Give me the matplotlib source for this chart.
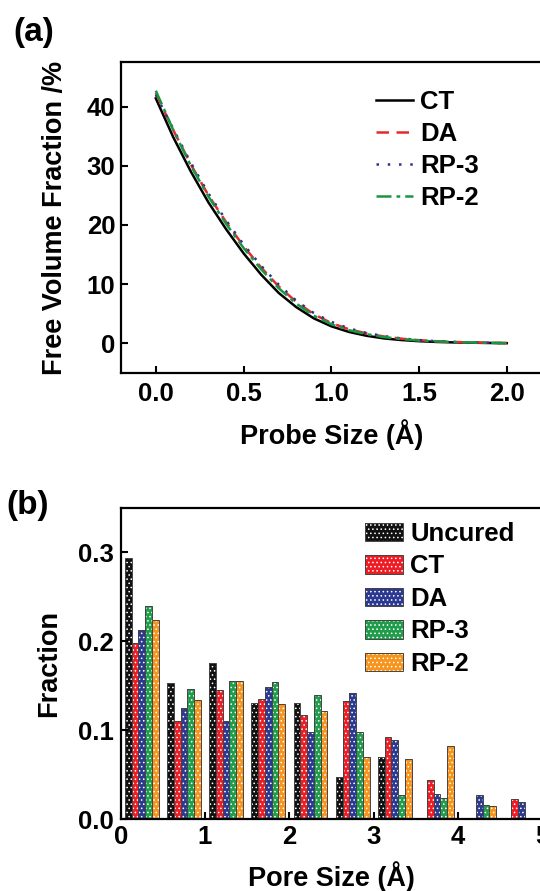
import numpy as np
import matplotlib
matplotlib.use('Agg')
import matplotlib.pyplot as plt
from matplotlib.patches import Patch

plt.rcParams['font.family'] = ['Liberation Sans', 'DejaVu Sans']
plt.rcParams['font.weight'] = 'bold'
plt.rcParams['axes.labelweight'] = 'bold'
plt.rcParams['hatch.linewidth'] = 0.6

# ---- panel (a): free volume fraction vs probe size
probe = [0.0, 0.1, 0.2, 0.3, 0.4, 0.5, 0.6, 0.7, 0.8, 0.9, 1.0,
         1.1, 1.2, 1.3, 1.4, 1.5, 1.6, 1.7, 1.8, 1.9, 2.0]
fv_ct = [41.4, 34.8, 29.0, 23.8, 19.3, 15.2, 11.6, 8.5, 6.1, 4.2, 2.85,
         1.9, 1.25, 0.8, 0.52, 0.33, 0.2, 0.12, 0.07, 0.03, 0.0]
fv_da = [42.3, 36.0, 30.2, 25.0, 20.5, 16.4, 12.8, 9.6, 7.0, 4.9, 3.4,
         2.35, 1.65, 1.12, 0.75, 0.5, 0.32, 0.2, 0.11, 0.05, 0.0]
fv_rp3 = [42.0, 36.2, 30.5, 25.3, 20.8, 16.7, 13.1, 9.9, 7.2, 5.1, 3.6,
          2.5, 1.72, 1.18, 0.8, 0.52, 0.33, 0.2, 0.11, 0.05, 0.0]
fv_rp2 = [42.7, 36.0, 30.0, 24.8, 20.2, 16.1, 12.5, 9.3, 6.7, 4.65, 3.2,
          2.2, 1.52, 1.03, 0.7, 0.45, 0.3, 0.18, 0.1, 0.04, 0.0]

# ---- panel (b): pore size distribution
pore_bins = [0.25, 0.75, 1.25, 1.75, 2.25, 2.75, 3.25, 3.75, 4.25, 4.75]
uncured = [0.294, 0.153, 0.176, 0.131, 0.131, 0.048, 0.070, 0.0, 0.0, 0.0]
ct = [0.198, 0.111, 0.145, 0.135, 0.117, 0.133, 0.093, 0.044, 0.0, 0.023]
da = [0.213, 0.125, 0.110, 0.149, 0.098, 0.142, 0.089, 0.028, 0.027, 0.019]
rp3 = [0.240, 0.147, 0.156, 0.154, 0.140, 0.098, 0.027, 0.024, 0.016, 0.0]
rp2 = [0.224, 0.134, 0.155, 0.130, 0.122, 0.070, 0.068, 0.082, 0.015, 0.0]

bar_names = ['Uncured', 'CT', 'DA', 'RP-3', 'RP-2']
bar_colors = ['#111111', '#ee1c25', '#2b3990', '#1f9d4b', '#f7941d']

fs = 18.5
fig = plt.figure(figsize=(5.4, 8.91), dpi=100)

def style(ax):
    for s in ax.spines.values():
        s.set_linewidth(1.6)
    ax.tick_params(direction='in', length=5, width=1.5, labelsize=fs,
                   top=False, right=False)
    for t in ax.get_xticklabels() + ax.get_yticklabels():
        t.set_fontweight('bold')

# (a)
ax1 = fig.add_axes([0.2235, 0.5817, 0.780, 0.3484])
ax1.plot(probe, fv_ct, color='black', lw=1.8, label='CT')
ax1.plot(probe, fv_da, color='#e8282a', lw=1.8, ls=(0, (5, 3)), label='DA')
ax1.plot(probe, fv_rp3, color='#2e3192', lw=1.8, ls=(0, (1, 3.5)), label='RP-3')
ax1.plot(probe, fv_rp2, color='#1a9641', lw=1.8, ls=(0, (6, 2, 1.5, 2)), label='RP-2')
ax1.set_xlim(-0.2, 2.2)
ax1.set_ylim(-5, 47.5)
ax1.set_xticks([0.0, 0.5, 1.0, 1.5, 2.0])
ax1.set_yticks([0, 10, 20, 30, 40])
ax1.xaxis.set_major_formatter(matplotlib.ticker.FormatStrFormatter('%.1f'))
style(ax1)
ax1.tick_params(axis='x', pad=7)
ax1.tick_params(axis='y', pad=4)
ax1.set_xlabel('Probe Size (Å)', fontsize=19.5, labelpad=9)
ax1.set_ylabel('Free Volume Fraction /%', fontsize=19.5, labelpad=13)
ax1.legend(loc='upper left', bbox_to_anchor=(0.605, 0.912), frameon=False,
           fontsize=fs, handlelength=1.45, handletextpad=0.3,
           labelspacing=0.32, borderpad=0, borderaxespad=0)
fig.text(0.024, 0.963, '(a)', fontsize=24, fontweight='bold', va='center')

# (b)
ax2 = fig.add_axes([0.2235, 0.0805, 0.781, 0.3494])
width = 0.08
handles = []
for i, (vals, c, name) in enumerate(zip([uncured, ct, da, rp3, rp2],
                                        bar_colors, bar_names)):
    xs = np.array(pore_bins) + (i - 2) * width
    ax2.bar(xs, vals, width, color=c, edgecolor='white', hatch='....',
            linewidth=0)
    ax2.bar(xs, vals, width, fill=False, edgecolor='#444444', linewidth=0.7)
    h1 = Patch(facecolor=c, edgecolor='white', hatch='....', linewidth=0)
    h2 = Patch(fill=False, edgecolor='#444444', linewidth=0.7)
    handles.append((h1, h2))
ax2.set_xlim(0, 5)
ax2.set_ylim(0, 0.35)
ax2.set_xticks([0, 1, 2, 3, 4, 5])
ax2.set_yticks([0.0, 0.1, 0.2, 0.3])
ax2.yaxis.set_major_formatter(matplotlib.ticker.FormatStrFormatter('%.1f'))
style(ax2)
ax2.tick_params(axis='x', pad=4)
ax2.tick_params(axis='y', pad=5)
ax2.set_xlabel('Pore Size (Å)', fontsize=19.5, labelpad=9)
ax2.set_ylabel('Fraction', fontsize=19.5, labelpad=11)
ax2.legend(handles, bar_names, loc='upper left', bbox_to_anchor=(0.58, 0.955),
           frameon=False, fontsize=fs, handlelength=1.45, handleheight=0.72,
           handletextpad=0.3, labelspacing=0.33, borderpad=0, borderaxespad=0)
fig.text(0.012, 0.433, '(b)', fontsize=24, fontweight='bold', va='center')

fig.savefig('out.png', dpi=100)
